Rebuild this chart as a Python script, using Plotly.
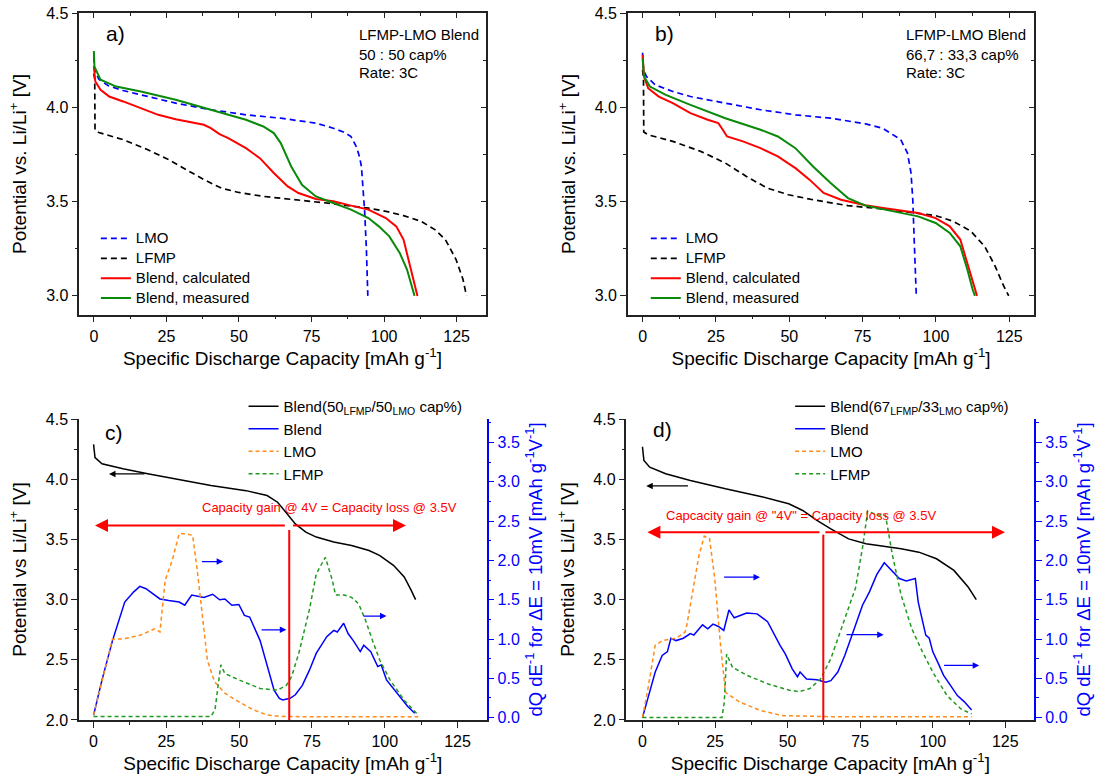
import plotly.graph_objects as go

#######################################
### ----- data ----- ###

# a) LFMP-LMO blend 50:50 cap%, 3C discharge
a_lmo_x = [0, 0.2, 1.7, 5, 10, 16.2, 28.2, 40.3, 52.4, 64.4, 76.5, 82.5, 86, 88.6, 90.5, 91.5, 92.2, 92.6, 93.3, 93.9, 94.4]
a_lmo_y = [4.27, 4.2, 4.15, 4.115, 4.09, 4.067, 4.023, 3.988, 3.961, 3.943, 3.917, 3.89, 3.87, 3.846, 3.79, 3.74, 3.687, 3.6, 3.45, 3.25, 3.0]
a_lfmp_x = [0, 0.3, 0.4, 1.7, 10.1, 18.6, 25.8, 31.9, 37.9, 43.9, 49.9, 58.4, 70.5, 82.5, 94.6, 100.6, 106.7, 112.7, 117.5, 121.1, 124.8, 127.2, 128.4]
a_lfmp_y = [4.18, 4.15, 3.88, 3.867, 3.829, 3.776, 3.723, 3.67, 3.617, 3.572, 3.549, 3.528, 3.51, 3.489, 3.466, 3.449, 3.426, 3.396, 3.352, 3.299, 3.193, 3.087, 3.0]
a_calc_x = [0, 0.3, 0.5, 2.3, 5.3, 10.1, 16.2, 22.2, 28.2, 34.3, 37.9, 40.3, 43.3, 46.3, 52.4, 57.2, 62, 66.8, 70.5, 76.5, 82.5, 88.6, 94.6, 100.6, 104.2, 106.7, 109.1, 110.9, 111.5]
a_calc_y = [4.22, 4.17, 4.138, 4.094, 4.058, 4.032, 3.996, 3.961, 3.938, 3.92, 3.908, 3.89, 3.859, 3.837, 3.784, 3.731, 3.652, 3.581, 3.546, 3.514, 3.502, 3.479, 3.458, 3.413, 3.369, 3.299, 3.157, 3.051, 3.0]
a_meas_x = [0, 0.1, 0.2, 2.3, 7.7, 16.2, 28.2, 40.3, 52.4, 58.4, 62, 64.4, 68, 71.7, 76.5, 82.5, 88.6, 94.6, 98.2, 101.8, 105.4, 107.9, 109.7, 110.5]
a_meas_y = [4.3, 4.25, 4.217, 4.147, 4.111, 4.085, 4.041, 3.988, 3.935, 3.899, 3.864, 3.811, 3.687, 3.59, 3.528, 3.493, 3.458, 3.413, 3.369, 3.316, 3.228, 3.14, 3.051, 3.0]

# b) LFMP-LMO blend 66,7:33,3 cap%, 3C discharge
b_lmo_x = [0, 0.3, 1.3, 4.3, 10.3, 16.3, 28.2, 40.2, 52.1, 64.1, 76, 81.8, 88, 90.3, 91.5, 92.1, 92.7, 93.3]
b_lmo_y = [4.29, 4.2, 4.165, 4.12, 4.085, 4.058, 4.023, 3.988, 3.961, 3.943, 3.913, 3.89, 3.829, 3.758, 3.652, 3.511, 3.246, 3.0]
b_lfmp_x = [0, 0.3, 0.4, 1.9, 10.3, 19.8, 28.2, 35.4, 42.5, 49.7, 58.1, 70, 82, 93.9, 99.9, 105.9, 111.9, 116.6, 120.2, 122.6, 124.8]
b_lfmp_y = [4.2, 4.15, 3.87, 3.855, 3.82, 3.767, 3.705, 3.634, 3.572, 3.537, 3.51, 3.479, 3.461, 3.44, 3.426, 3.396, 3.343, 3.263, 3.157, 3.069, 3.0]
b_calc_x = [0, 0.5, 1.9, 5.5, 10.3, 16.3, 22.2, 25.8, 27, 28.8, 34.2, 40.2, 46.1, 52.1, 56.9, 61.7, 67.6, 76, 82, 88, 93.9, 99.9, 104.7, 108.3, 110.7, 113, 114]
b_calc_y = [4.28, 4.164, 4.102, 4.058, 4.023, 3.97, 3.935, 3.917, 3.89, 3.846, 3.82, 3.784, 3.74, 3.678, 3.617, 3.546, 3.51, 3.481, 3.466, 3.454, 3.44, 3.413, 3.369, 3.299, 3.175, 3.051, 3.0]
b_meas_x = [0, 0.5, 2.5, 7.9, 16.3, 28.2, 40.2, 46.1, 52.1, 58.1, 64.1, 70, 76, 82, 88, 93.9, 99.9, 104.7, 108.3, 110.7, 112.5, 113.3]
b_meas_y = [4.26, 4.164, 4.111, 4.067, 4.014, 3.943, 3.882, 3.846, 3.784, 3.687, 3.599, 3.519, 3.479, 3.461, 3.44, 3.422, 3.387, 3.334, 3.263, 3.14, 3.034, 3.0]

# c) 50/50 blend potential + dQ/dE
c_blend_x = [0, 0.5, 2.9, 10.1, 18.6, 28.2, 40.3, 52.4, 59.6, 63.2, 65.6, 69.3, 72.9, 76.5, 82.5, 88.6, 94.6, 98.2, 103, 106.7, 109.1, 110.6]
c_blend_y = [4.29, 4.18, 4.128, 4.086, 4.045, 4.002, 3.947, 3.905, 3.864, 3.809, 3.74, 3.629, 3.56, 3.519, 3.478, 3.45, 3.408, 3.367, 3.285, 3.188, 3.076, 3.0]
c_dq_x = [0, 2.9, 6.5, 10.7, 13.8, 15.9, 18, 21, 22.8, 25.8, 29.4, 31.3, 33.7, 37.9, 40.9, 43.3, 45.1, 47.5, 49.9, 51.8, 53.6, 57.2, 59.6, 62, 63.8, 65, 67.5, 69.3, 71.7, 74.1, 76.5, 80.1, 82.5, 83.7, 85.9, 87.4, 89.2, 91.6, 92.8, 95.2, 97.6, 98.8, 100.6, 104.2, 107.9, 110.3]
c_dq_y = [0.03, 0.48, 0.98, 1.47, 1.6, 1.67, 1.64, 1.56, 1.51, 1.49, 1.47, 1.43, 1.56, 1.53, 1.57, 1.5, 1.51, 1.43, 1.44, 1.3, 1.28, 0.98, 0.65, 0.35, 0.245, 0.224, 0.245, 0.29, 0.41, 0.6, 0.82, 1.03, 1.11, 1.09, 1.2, 1.07, 0.98, 0.84, 0.92, 0.84, 0.65, 0.67, 0.48, 0.31, 0.14, 0.055]
c_lmo_x = [0, 2.9, 6.5, 10.1, 16.2, 21, 22.8, 24.6, 27, 29.4, 31.8, 34, 35.5, 37.3, 39.1, 41.5, 45.1, 49.9, 54.8, 59.6, 64.4, 88.6, 111.5]
c_lmo_y = [0.03, 0.48, 1.0, 1.0, 1.05, 1.13, 1.09, 1.75, 2.0, 2.34, 2.34, 2.32, 1.91, 1.32, 0.73, 0.46, 0.31, 0.2, 0.1, 0.034, 0.013, 0.01, 0.01]
c_lfmp_x = [0, 40.3, 41.7, 43.7, 45.1, 49.9, 57.2, 63.2, 66.2, 68, 70.5, 74.1, 76.5, 79.6, 82, 83.1, 86.1, 88.6, 91, 93.4, 95.8, 98.3, 101.8, 106.7, 110.9, 111.5]
c_lfmp_y = [0.013, 0.013, 0.1, 0.67, 0.56, 0.48, 0.37, 0.35, 0.41, 0.52, 0.82, 1.37, 1.83, 2.04, 1.75, 1.56, 1.56, 1.53, 1.45, 1.24, 0.98, 0.73, 0.48, 0.22, 0.055, 0.034]

# d) 67/33 blend potential + dQ/dE
d_blend_x = [0, 0.5, 2.5, 8, 16.5, 28.6, 40.7, 50.4, 55.2, 60.1, 64.9, 71, 77, 83.1, 89.1, 95.2, 101.3, 107.3, 112.2, 115]
d_blend_y = [4.27, 4.156, 4.1, 4.045, 3.99, 3.92, 3.857, 3.796, 3.74, 3.657, 3.587, 3.504, 3.463, 3.444, 3.422, 3.394, 3.339, 3.242, 3.104, 3.0]
d_dq_x = [0, 1.9, 3.1, 4.4, 6.8, 8.6, 9.8, 11.6, 14.1, 16.5, 17.7, 20.7, 22.5, 24.3, 26.2, 28, 29.8, 31.6, 35.9, 39.5, 43.1, 45.5, 47.4, 49.2, 51.6, 53.4, 54.3, 56.5, 60.1, 63.1, 64.9, 67.3, 69.7, 72.2, 75.8, 78.2, 80.7, 83.3, 85.5, 88.5, 90.9, 94, 95, 96.4, 97.6, 98.8, 100, 101.9, 103.7, 106.1, 108.5, 110.9, 113.4]
d_dq_y = [0, 0.24, 0.41, 0.58, 0.79, 0.84, 1.01, 0.98, 1.01, 1.07, 1.05, 1.18, 1.13, 1.19, 1.16, 1.11, 1.37, 1.27, 1.33, 1.32, 1.22, 1.05, 0.92, 0.81, 0.62, 0.52, 0.58, 0.49, 0.48, 0.45, 0.47, 0.58, 0.79, 1.05, 1.43, 1.6, 1.82, 1.97, 1.88, 1.77, 1.74, 1.77, 1.47, 1.22, 1.05, 1.01, 0.84, 0.69, 0.54, 0.41, 0.28, 0.2, 0.098]
d_lmo_x = [0, 1.9, 4.4, 6.8, 11.6, 14.7, 15.3, 17.1, 19.5, 21.3, 23.1, 24.9, 26.8, 28.6, 33.4, 40.7, 48, 64.9, 113.4]
d_lmo_y = [0, 0.37, 0.92, 0.98, 1.01, 1.09, 1.18, 1.56, 2.07, 2.31, 2.28, 1.77, 0.96, 0.32, 0.2, 0.09, 0.026, 0.01, 0.01]
d_lfmp_x = [0, 27.4, 28.2, 29, 31, 35.9, 43.1, 50.4, 54, 57.7, 61.3, 64.9, 68.5, 73.4, 75.8, 77.6, 80.7, 83.7, 86.1, 89.1, 92.8, 96.4, 100, 104.9, 109.7, 113.4]
d_lfmp_y = [0, 0, 0.2, 0.81, 0.64, 0.54, 0.43, 0.35, 0.33, 0.37, 0.49, 0.75, 1.13, 1.65, 2.16, 2.63, 2.58, 2.58, 2.07, 1.56, 1.13, 0.84, 0.58, 0.28, 0.11, 0.047]

### ----- data ----- ###
#######################################

FONT = "Liberation Sans, Arial, sans-serif"
BLUE = "#0000ff"
RED = "#ff0000"
GREEN = "#0a8a0a"
ORANGE = "#ff8c1a"
DGREEN = "#1f9a1f"
AX = "#222222"

fig = go.Figure()


def add_line(x, y, name, color, dash, width, xa, ya, legend, show=True):
    fig.add_scatter(x=x, y=y, name=name, mode="lines",
                    line=dict(color=color, dash=dash, width=width),
                    xaxis=xa, yaxis=ya, legend=legend, showlegend=show,
                    hoverinfo="skip")


def big(t):
    # legend rows of a) and b) are tight: small row height, larger text
    return '<span style="font-size:15px">' + t + '</span>'


# panel a
add_line(a_lmo_x, a_lmo_y, big("LMO"), BLUE, "6px,4px", 1.7, "x", "y", "legend")
add_line(a_lfmp_x, a_lfmp_y, big("LFMP"), "black", "6px,4px", 1.7, "x", "y", "legend")
add_line(a_calc_x, a_calc_y, big("Blend, calculated"), RED, "solid", 2, "x", "y", "legend")
add_line(a_meas_x, a_meas_y, big("Blend, measured"), GREEN, "solid", 2, "x", "y", "legend")
# panel b
add_line(b_lmo_x, b_lmo_y, big("LMO"), BLUE, "6px,4px", 1.7, "x2", "y2", "legend2")
add_line(b_lfmp_x, b_lfmp_y, big("LFMP"), "black", "6px,4px", 1.7, "x2", "y2", "legend2")
add_line(b_calc_x, b_calc_y, big("Blend, calculated"), RED, "solid", 2, "x2", "y2", "legend2")
add_line(b_meas_x, b_meas_y, big("Blend, measured"), GREEN, "solid", 2, "x2", "y2", "legend2")
# panel c
add_line(c_blend_x, c_blend_y, "Blend(50<sub>LFMP</sub>/50<sub>LMO</sub> cap%)", "black", "solid", 1.5, "x3", "y3", "legend3")
add_line(c_dq_x, c_dq_y, "Blend", BLUE, "solid", 1.5, "x3", "y5", "legend3")
add_line(c_lmo_x, c_lmo_y, "LMO", ORANGE, "4px,3px", 1.5, "x3", "y5", "legend3")
add_line(c_lfmp_x, c_lfmp_y, "LFMP", DGREEN, "4px,3px", 1.5, "x3", "y5", "legend3")
# panel d
add_line(d_blend_x, d_blend_y, "Blend(67<sub>LFMP</sub>/33<sub>LMO</sub> cap%)", "black", "solid", 1.5, "x4", "y4", "legend4")
add_line(d_dq_x, d_dq_y, "Blend", BLUE, "solid", 1.5, "x4", "y6", "legend4")
add_line(d_lmo_x, d_lmo_y, "LMO", ORANGE, "4px,3px", 1.5, "x4", "y6", "legend4")
add_line(d_lfmp_x, d_lfmp_y, "LFMP", DGREEN, "4px,3px", 1.5, "x4", "y6", "legend4")

# empty traces so the inward "mirror" tick axes of a) and b) get drawn
for xa, ya in [("x7", "y"), ("x", "y7"), ("x8", "y2"), ("x2", "y8")]:
    fig.add_scatter(x=[None], y=[None], xaxis=xa, yaxis=ya, showlegend=False, hoverinfo="skip")

tickfont = dict(size=16, family=FONT, color="black")
titlefont = dict(size=19, family=FONT, color="black")
base = dict(showgrid=False, zeroline=False, showline=True, linecolor=AX, linewidth=1.5,
            ticks="outside", ticklen=6, tickwidth=1.3, tickcolor=AX, tickfont=tickfont,
            automargin=False)
xcap = "Specific Discharge Capacity [mAh g<sup>-1</sup>]"


def xax(dom, anchor, rng, mirror):
    return dict(base, domain=dom, anchor=anchor, range=rng, dtick=25, tick0=0, mirror=mirror,
                minor=dict(dtick=12.5, ticks="outside", ticklen=3, tickcolor=AX),
                title=dict(text=xcap, font=titlefont, standoff=6))


def yax(dom, anchor, rng, title, mirror):
    return dict(base, domain=dom, anchor=anchor, range=rng, dtick=0.5, tick0=0, tickformat=".1f",
                mirror=mirror, minor=dict(dtick=0.25, ticks="outside", ticklen=3, tickcolor=AX),
                title=dict(text=title, font=titlefont, standoff=14))


def mirror_x(over, anchor, rng):
    return dict(overlaying=over, anchor=anchor, side="top", range=rng, dtick=25, tick0=0,
                ticks="inside", ticklen=5, tickcolor=AX, showticklabels=False, showline=False,
                showgrid=False, zeroline=False,
                minor=dict(dtick=12.5, ticks="inside", ticklen=3, tickcolor=AX))


def mirror_y(over, anchor, rng):
    return dict(overlaying=over, anchor=anchor, side="right", range=rng, dtick=0.5, tick0=0,
                ticks="inside", ticklen=5, tickcolor=AX, showticklabels=False, showline=False,
                showgrid=False, zeroline=False,
                minor=dict(dtick=0.25, ticks="inside", ticklen=3, tickcolor=AX))


def dq_axis(over, anchor):
    return dict(overlaying=over, anchor=anchor, side="right", range=[-0.03, 3.8], dtick=0.5, tick0=0,
                tickformat=".1f", showgrid=False, zeroline=False, showline=True, linecolor=BLUE,
                linewidth=1.5, ticks="outside", ticklen=6, tickwidth=1.3, tickcolor=BLUE,
                tickfont=dict(size=16, family=FONT, color=BLUE), automargin=False,
                minor=dict(dtick=0.25, ticks="outside", ticklen=3, tickcolor=BLUE),
                title=dict(text="dQ dE<sup>-1</sup> for ΔE = 10mV [mAh g<sup>-1</sup>V<sup>-1</sup>]",
                           font=dict(size=18.5, family=FONT, color=BLUE), standoff=10))


top_y = [0.5965, 0.983]
bot_y = [0.077, 0.4628]
v_ab = "Potential vs. Li/Li<sup>+</sup> [V]"
v_cd = "Potential vs Li/Li<sup>+</sup> [V]"

legend_common = dict(xanchor="left", yanchor="top", bgcolor="rgba(0,0,0,0)", tracegroupgap=0)

fig.update_layout(
    width=1102, height=780,
    margin=dict(l=0, r=0, t=0, b=0, autoexpand=False),
    paper_bgcolor="white", plot_bgcolor="white",
    font=dict(family=FONT, color="black"),
    xaxis=xax([0.072, 0.4407], "y", [-5, 135], True),
    yaxis=yax(top_y, "x", [2.9, 4.5], v_ab, True),
    xaxis2=xax([0.5698, 0.9385], "y2", [-5, 133.5], True),
    yaxis2=yax(top_y, "x2", [2.9, 4.5], v_ab, True),
    xaxis3=xax([0.0717, 0.4416], "y3", [-5, 135], False),
    yaxis3=yax(bot_y, "x3", [2.0, 4.5], v_cd, False),
    xaxis4=xax([0.5685, 0.9386], "y4", [-5.5, 135], False),
    yaxis4=yax(bot_y, "x4", [2.0, 4.5], v_cd, False),
    yaxis5=dq_axis("y3", "x3"),
    yaxis6=dq_axis("y4", "x4"),
    xaxis7=mirror_x("x", "y", [-5, 135]),
    yaxis7=mirror_y("y", "x", [2.9, 4.5]),
    xaxis8=mirror_x("x2", "y2", [-5, 133.5]),
    yaxis8=mirror_y("y2", "x2", [2.9, 4.5]),
    legend=dict(legend_common, x=0.087, y=0.7135, font=dict(size=13, family=FONT)),
    legend2=dict(legend_common, x=0.586, y=0.7135, font=dict(size=13, family=FONT)),
    legend3=dict(legend_common, x=0.221, y=0.50, font=dict(size=15, family=FONT)),
    legend4=dict(legend_common, x=0.717, y=0.50, font=dict(size=15, family=FONT)),
)

ann = []
# panel labels and condition notes
for xr, yr, lab, xt, lines in [("x", "y", "a)", 90.6, ["LFMP-LMO Blend", "50 : 50 cap%", "Rate: 3C"]),
                               ("x2", "y2", "b)", 89.1, ["LFMP-LMO Blend", "66,7 : 33,3 cap%", "Rate: 3C"])]:
    ann.append(dict(xref=xr, yref=yr, x=7.4, y=4.395, text=lab, showarrow=False,
                    font=dict(size=21, family=FONT)))
    for yy, t in zip([4.389, 4.283, 4.186], lines):
        ann.append(dict(xref=xr, yref=yr, x=xt, y=yy, text=t, showarrow=False, xanchor="left",
                        font=dict(size=15, family=FONT)))

ann.append(dict(xref="x3", yref="y3", x=7.1, y=4.39, text="c)", showarrow=False, font=dict(size=21, family=FONT)))
ann.append(dict(xref="x4", yref="y4", x=6.8, y=4.41, text="d)", showarrow=False, font=dict(size=21, family=FONT)))


def arrow(xr, yr, x_head, x_tail, yy, color, width, size):
    return dict(xref=xr, yref=yr, axref=xr, ayref=yr, x=x_head, y=yy, ax=x_tail, ay=yy, text="",
                showarrow=True, arrowhead=2, arrowsize=size, arrowwidth=width, arrowcolor=color)


# c) arrows
ann.append(arrow("x3", "y3", 5.3, 18.0, 4.044, "black", 1.3, 1))
ann.append(arrow("x3", "y3", 44.5, 36.7, 3.316, BLUE, 1.3, 1))
ann.append(arrow("x3", "y3", 66.2, 57.2, 2.749, BLUE, 1.3, 1))
ann.append(arrow("x3", "y3", 100.6, 92.2, 2.863, BLUE, 1.3, 1))
ann.append(arrow("x3", "y3", 0.5, 66.2, 3.615, RED, 2, 1.3))
ann.append(arrow("x3", "y3", 107.3, 68.0, 3.615, RED, 2, 1.3))
ann.append(dict(xref="x3", yref="y3", x=80.9, y=3.762, showarrow=False,
                text="Capacity gain @ 4V = Capacity loss @ 3.5V", font=dict(size=13, family=FONT, color=RED)))
# d) arrows
ann.append(arrow("x4", "y4", 1.3, 16.2, 3.944, "black", 1.3, 1))
ann.append(arrow("x4", "y4", 40.5, 27.6, 3.186, BLUE, 1.3, 1))
ann.append(arrow("x4", "y4", 83.1, 69.8, 2.708, BLUE, 1.3, 1))
ann.append(arrow("x4", "y4", 116.0, 103.4, 2.453, BLUE, 1.3, 1))
ann.append(arrow("x4", "y4", 1.7, 61.5, 3.560, RED, 2, 1.3))
ann.append(arrow("x4", "y4", 124.9, 62.5, 3.560, RED, 2, 1.3))
ann.append(dict(xref="x4", yref="y4", x=54.7, y=3.698, showarrow=False,
                text="Capcacity gain @ \"4V\" = Capacity loss @ 3.5V", font=dict(size=13, family=FONT, color=RED)))

fig.update_layout(annotations=ann)

fig.add_shape(type="line", xref="x3", yref="y3", x0=67.2, x1=67.2, y0=2.0, y1=3.579,
              line=dict(color=RED, width=2))
fig.add_shape(type="line", xref="x4", yref="y4", x0=62.3, x1=62.3, y0=2.0, y1=3.54,
              line=dict(color=RED, width=2))

# page body has an 8px default margin; drop it so the figure fills the window exactly
fig.write_html("out.html", config={"displayModeBar": False},
               post_script="document.body.style.margin='0px';document.body.style.overflow='hidden';")
